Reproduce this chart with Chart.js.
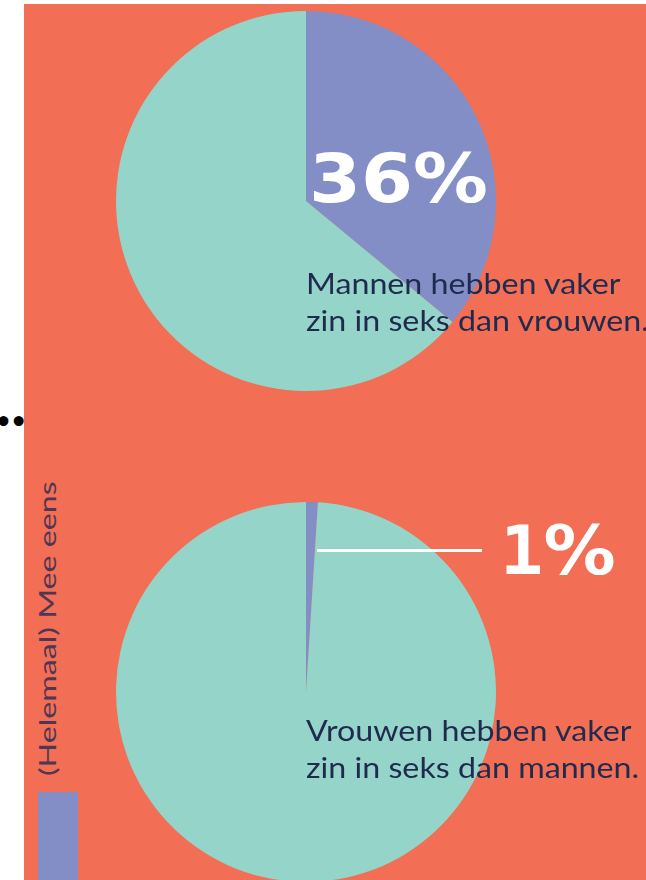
<!DOCTYPE html>
<html lang="nl">
<head>
  <meta charset="UTF-8">
  <title>Zin in seks</title>
  <script src="https://cdn.jsdelivr.net/npm/chart.js"></script>
  <style>
    html, body {
      margin: 0;
      padding: 0;
      width: 646px;
      height: 880px;
      overflow: hidden;
      background: #ffffff;
      font-family: 'Lato', sans-serif;
    }

    .panel {
      position: absolute;
      left: 24px;
      top: 4px;
      width: 622px;
      height: 876px;
      background: #f26e55;
    }

    .pie {
      position: absolute;
      left: 116px;
      width: 380px;
      height: 380px;
    }

    .dots {
      position: absolute;
      left: -21px;
      top: 406px;
      font: bold 28px 'DejaVu Sans', sans-serif;
      letter-spacing: -2.5px;
      color: #000000;
    }

    .big {
      position: absolute;
      color: #ffffff;
      font-family: 'DejaVu Sans', sans-serif;
      font-weight: bold;
      font-size: 68px;
      line-height: 1;
      white-space: nowrap;
      transform-origin: 0 0;
      transform: scaleX(1.1);
    }

    .note {
      position: absolute;
      left: 306px;
      color: #1f2a4e;
      font-size: 28px;
      line-height: 37px;
      white-space: nowrap;
      transform-origin: 0 0;
      transform: scaleX(1.15);
    }

    .rule {
      position: absolute;
      left: 317px;
      top: 549px;
      width: 165px;
      height: 3px;
      background: #ffffff;
    }

    .legend-text {
      position: absolute;
      left: 33px;
      top: 776px;
      transform-origin: 0 0;
      transform: rotate(-90deg) scaleX(1.4);
      color: #4f3652;
      font-size: 23px;
      white-space: nowrap;
    }

    .legend-box {
      position: absolute;
      left: 38px;
      top: 792px;
      width: 40px;
      height: 88px;
      background: #828ec5;
    }
  </style>
</head>
<body>
  <div class="panel"></div>
  <div class="dots">•••</div>

  <div class="pie" style="top: 11px;"><canvas id="menChart" width="380" height="380"></canvas></div>
  <div class="pie" style="top: 502px;"><canvas id="womenChart" width="380" height="380"></canvas></div>

  <div class="big" id="menPct" style="left: 309px; top: 145px;"></div>
  <div class="note" style="top: 265px;">Mannen hebben vaker<br>zin in seks dan vrouwen.</div>

  <div class="rule"></div>
  <div class="big" id="womenPct" style="left: 500px; top: 517px; transform: scaleX(1.06);"></div>
  <div class="note" style="top: 712px;">Vrouwen hebben vaker<br>zin in seks dan mannen.</div>

  <div class="legend-text" id="legendText"></div>
  <div class="legend-box"></div>

  <script>
    const labels = ['(Helemaal) Mee eens', 'Overig'];
    const menValues = [36, 64];
    const womenValues = [1, 99];
    const colors = ['#828ec5', '#95d4c8'];

    function createPie(id, values) {
      const ctx = document.getElementById(id).getContext('2d');
      new Chart(ctx, {
        type: 'pie',
        data: {
          labels: labels,
          datasets: [{
            data: values,
            backgroundColor: colors,
            borderWidth: 0
          }]
        },
        options: {
          responsive: false,
          animation: false,
          layout: { padding: 0 },
          plugins: {
            legend: { display: false },
            tooltip: { enabled: false }
          }
        }
      });
    }

    createPie('menChart', menValues);
    createPie('womenChart', womenValues);

    document.getElementById('menPct').textContent = menValues[0] + '%';
    document.getElementById('womenPct').innerHTML =
      '<span style="font-family:\'DejaVu Sans Mono\'">' + womenValues[0] + '</span>%';
    document.getElementById('legendText').textContent = labels[0];
  </script>
</body>
</html>
